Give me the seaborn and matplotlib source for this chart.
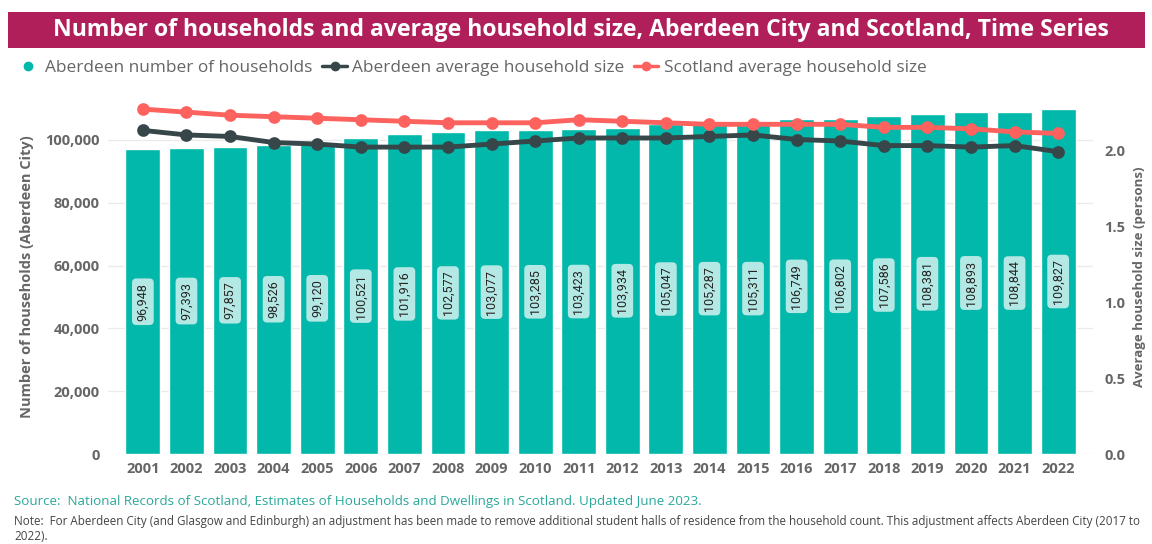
import pandas as pd
import matplotlib
matplotlib.use("Agg")
from matplotlib import pyplot as plt
from matplotlib.lines import Line2D
from matplotlib.patches import Rectangle
from matplotlib.ticker import FuncFormatter
import seaborn as sns

years = [str(y) for y in range(2001, 2023)]
households = [96948, 97393, 97857, 98526, 99120, 100521, 101916, 102577, 103077, 103285, 103423,
              103934, 105047, 105287, 105311, 106749, 106802, 107586, 108381, 108893, 108844, 109827]
aberdeen_size = [2.13, 2.10, 2.09, 2.05, 2.04, 2.02, 2.02, 2.02, 2.04, 2.06, 2.08,
                 2.08, 2.08, 2.09, 2.10, 2.07, 2.06, 2.03, 2.03, 2.02, 2.03, 1.99]
scotland_size = [2.27, 2.25, 2.23, 2.22, 2.21, 2.20, 2.19, 2.18, 2.18, 2.18, 2.20,
                 2.19, 2.18, 2.17, 2.17, 2.17, 2.17, 2.15, 2.15, 2.14, 2.12, 2.11]

teal = "#01B8AA"
dark = "#374649"
red = "#FD625E"
grey = "#666666"

df = pd.DataFrame({"Year": years, "Households": households,
                   "Aberdeen": aberdeen_size, "Scotland": scotland_size})

sns.set_style("white")
plt.rcParams['font.family'] = ['Open Sans', 'DejaVu Sans']

fig = plt.figure(figsize=(11.52, 5.44), dpi=100)
ax = fig.add_axes([108/1152, 1 - 454/544, (1093 - 108)/1152, (454 - 100)/544])

sns.barplot(ax=ax, data=df, x="Year", y="Households", color=teal, saturation=1, width=0.8)
ax.set_xlim(-0.8, 21.8)
ax.set_ylim(0, 112700)
ax.set_yticks([0, 20000, 40000, 60000, 80000, 100000])
ax.yaxis.set_major_formatter(FuncFormatter(lambda v, p: f"{int(v):,}"))
ax.grid(axis="y", color="#EBEBEB", linewidth=1)
ax.set_axisbelow(True)
for s in ax.spines.values():
    s.set_visible(False)
ax.tick_params(length=0, labelsize=10.5, labelcolor=grey, pad=6)
for lab in ax.get_xticklabels() + ax.get_yticklabels():
    lab.set_fontweight("bold")
ax.set_xlabel("")
ax.set_ylabel("Number of households (Aberdeen City)", fontsize=10.5, fontweight="bold", color=grey, labelpad=8)

# value labels in the middle of each bar
for i, v in enumerate(households):
    ax.text(i, v / 2, f"{v:,}", rotation=90, ha="center", va="center", fontsize=9, color="#252423",
            family=["Roboto", "DejaVu Sans"],
            bbox=dict(boxstyle="round,pad=0.35", fc="#B3E8E4", ec="none"))

ax2 = ax.twinx()
sns.pointplot(ax=ax2, data=df, x="Year", y="Aberdeen", color=dark, markersize=6.5, linewidth=3.5)
sns.pointplot(ax=ax2, data=df, x="Year", y="Scotland", color=red, markersize=6.5, linewidth=3.5)
ax2.set_xlim(-0.8, 21.8)
ax2.set_ylim(0, 2.33)
ax2.set_yticks([0.0, 0.5, 1.0, 1.5, 2.0])
ax2.yaxis.set_major_formatter(FuncFormatter(lambda v, p: f"{v:.1f}"))
for s in ax2.spines.values():
    s.set_visible(False)
ax2.tick_params(length=0, labelsize=10.5, labelcolor=grey, pad=8)
for lab in ax2.get_yticklabels():
    lab.set_fontweight("bold")
ax2.set_xlabel("")
ax2.set_ylabel("Average household size (persons)", fontsize=9.5, fontweight="bold", color=grey, labelpad=6)

# title banner
fig.patches.append(Rectangle((8/1152, 1 - 48/544), (1145 - 8)/1152, 36/544, transform=fig.transFigure,
                             facecolor="#B01F5A", edgecolor="none"))
fig.text(581/1152, 1 - 30/544, "Number of households and average household size, Aberdeen City and Scotland, Time Series",
         ha="center", va="center", color="white", fontsize=16.6, fontweight="bold")

handles = [
    Line2D([], [], color=teal, marker="o", linestyle="none", markersize=6),
    Line2D([], [], color=dark, marker="o", linewidth=2.5, markersize=6),
    Line2D([], [], color=red, marker="o", linewidth=2.5, markersize=6),
]
labels = ["Aberdeen number of households", "Aberdeen average household size", "Scotland average household size"]
fig.legend(handles, labels, loc="center left", bbox_to_anchor=(0, 1 - 68/544), ncol=3, frameon=False,
           fontsize=12.4, labelcolor=grey, handlelength=1.4, handletextpad=0.3, columnspacing=0.6)

fig.text(14/1152, 1 - 502/544, "Source:  National Records of Scotland, Estimates of Households and Dwellings in Scotland. Updated June 2023.",
         ha="left", va="center", color="#2AA899", fontsize=9.6)
fig.text(14/1152, 1 - 521/544, "Note:  For Aberdeen City (and Glasgow and Edinburgh) an adjustment has been made to remove additional student halls of residence from the household count. This adjustment affects Aberdeen City (2017 to",
         ha="left", va="center", color="#444444", fontsize=8.4)
fig.text(14/1152, 1 - 537/544, "2022).", ha="left", va="center", color="#444444", fontsize=8.4)

fig.savefig("out.png", dpi=100)
